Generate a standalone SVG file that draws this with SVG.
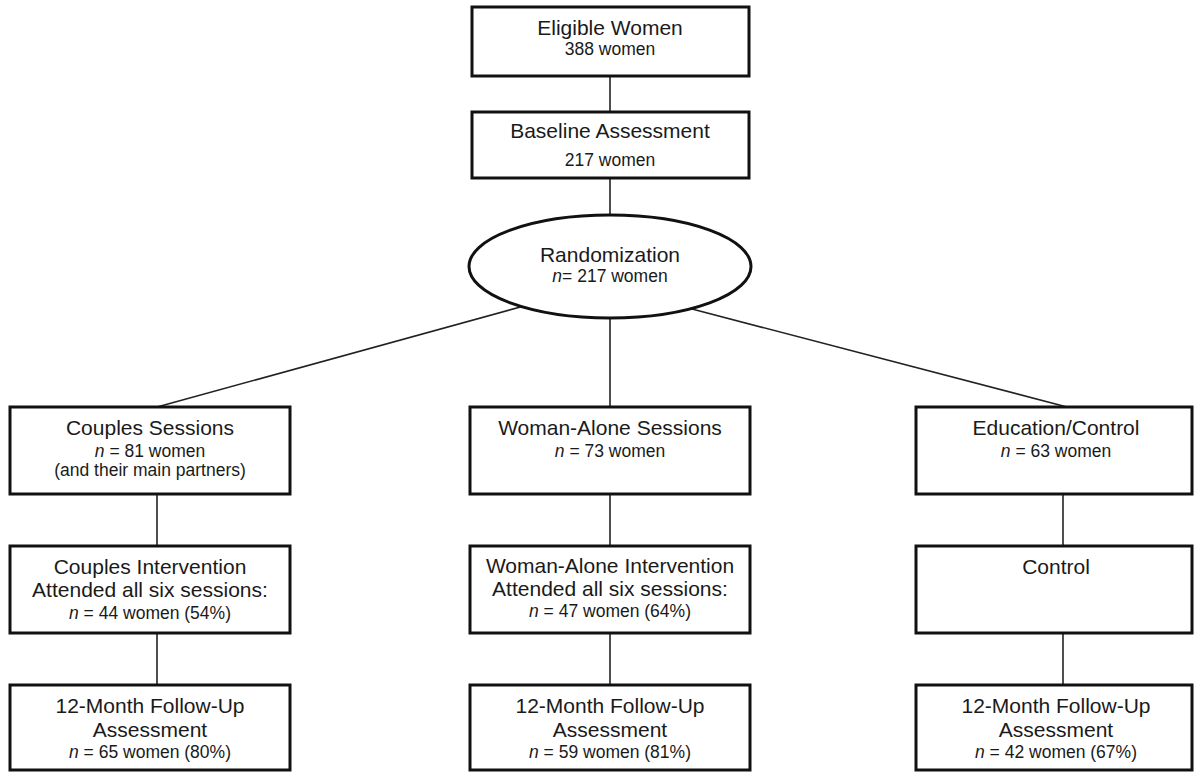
<svg xmlns="http://www.w3.org/2000/svg" width="1194" height="775" viewBox="0 0 1194 775">
<style>
.box{fill:#fff;stroke:#111;stroke-width:3}
.con{stroke:#222;stroke-width:1.6;fill:none}
text{font-family:"Liberation Sans",Arial,sans-serif;fill:#1a1a1a;text-anchor:middle}
.t{font-size:21px}
.s{font-size:17.5px}
.i{font-style:italic}
</style>
<rect width="1194" height="775" fill="#fff"/>
<g id="connectors">
<line class="con" x1="610" y1="76" x2="610" y2="112"/>
<line class="con" x1="610" y1="178" x2="610" y2="215"/>
<line class="con" x1="524" y1="306" x2="157" y2="407"/>
<line class="con" x1="610" y1="318" x2="610" y2="407"/>
<line class="con" x1="692" y1="309" x2="1067" y2="407"/>
<line class="con" x1="157" y1="494" x2="157" y2="546"/>
<line class="con" x1="157" y1="633" x2="157" y2="685"/>
<line class="con" x1="610" y1="494" x2="610" y2="546"/>
<line class="con" x1="610" y1="633" x2="610" y2="685"/>
<line class="con" x1="1063" y1="494" x2="1063" y2="546"/>
<line class="con" x1="1063" y1="633" x2="1063" y2="685"/>
</g>
<g id="eligible">
<rect class="box" x="472" y="7" width="277" height="69"/>
<text class="t" x="610" y="35">Eligible Women</text>
<text class="s" x="610" y="55">388 women</text>
</g>
<g id="baseline">
<rect class="box" x="472" y="112" width="277" height="66"/>
<text class="t" x="610" y="138">Baseline Assessment</text>
<text class="s" x="610" y="166">217 women</text>
</g>
<g id="randomization">
<ellipse class="box" cx="610" cy="266.5" rx="141" ry="51.5"/>
<text class="t" x="610" y="262">Randomization</text>
<text class="s" x="610" y="282"><tspan class="i">n</tspan>= 217 women</text>
</g>
<g id="couples-sessions">
<rect class="box" x="10" y="407" width="280" height="87"/>
<text class="t" x="150" y="435">Couples Sessions</text>
<text class="s" x="150" y="457"><tspan class="i">n</tspan> = 81 women</text>
<text class="s" x="150" y="476">(and their main partners)</text>
</g>
<g id="woman-alone-sessions">
<rect class="box" x="470" y="407" width="280" height="87"/>
<text class="t" x="610" y="435">Woman-Alone Sessions</text>
<text class="s" x="610" y="457"><tspan class="i">n</tspan> = 73 women</text>
</g>
<g id="education-control">
<rect class="box" x="916" y="407" width="276" height="87"/>
<text class="t" x="1056" y="435">Education/Control</text>
<text class="s" x="1056" y="457"><tspan class="i">n</tspan> = 63 women</text>
</g>
<g id="couples-intervention">
<rect class="box" x="10" y="546" width="280" height="87"/>
<text class="t" x="150" y="574">Couples Intervention</text>
<text class="t" x="150" y="597">Attended all six sessions:</text>
<text class="s" x="150" y="619"><tspan class="i">n</tspan> = 44 women (54%)</text>
</g>
<g id="woman-alone-intervention">
<rect class="box" x="470" y="546" width="280" height="87"/>
<text class="t" x="610" y="573">Woman-Alone Intervention</text>
<text class="t" x="610" y="596">Attended all six sessions:</text>
<text class="s" x="610" y="617"><tspan class="i">n</tspan> = 47 women (64%)</text>
</g>
<g id="control">
<rect class="box" x="916" y="546" width="276" height="87"/>
<text class="t" x="1056" y="574">Control</text>
</g>
<g id="followup-couples">
<rect class="box" x="10" y="685" width="280" height="85"/>
<text class="t" x="150" y="713">12-Month Follow-Up</text>
<text class="t" x="150" y="737">Assessment</text>
<text class="s" x="150" y="758"><tspan class="i">n</tspan> = 65 women (80%)</text>
</g>
<g id="followup-woman-alone">
<rect class="box" x="470" y="685" width="280" height="85"/>
<text class="t" x="610" y="713">12-Month Follow-Up</text>
<text class="t" x="610" y="737">Assessment</text>
<text class="s" x="610" y="758"><tspan class="i">n</tspan> = 59 women (81%)</text>
</g>
<g id="followup-control">
<rect class="box" x="916" y="685" width="276" height="85"/>
<text class="t" x="1056" y="713">12-Month Follow-Up</text>
<text class="t" x="1056" y="737">Assessment</text>
<text class="s" x="1056" y="758"><tspan class="i">n</tspan> = 42 women (67%)</text>
</g>
</svg>
